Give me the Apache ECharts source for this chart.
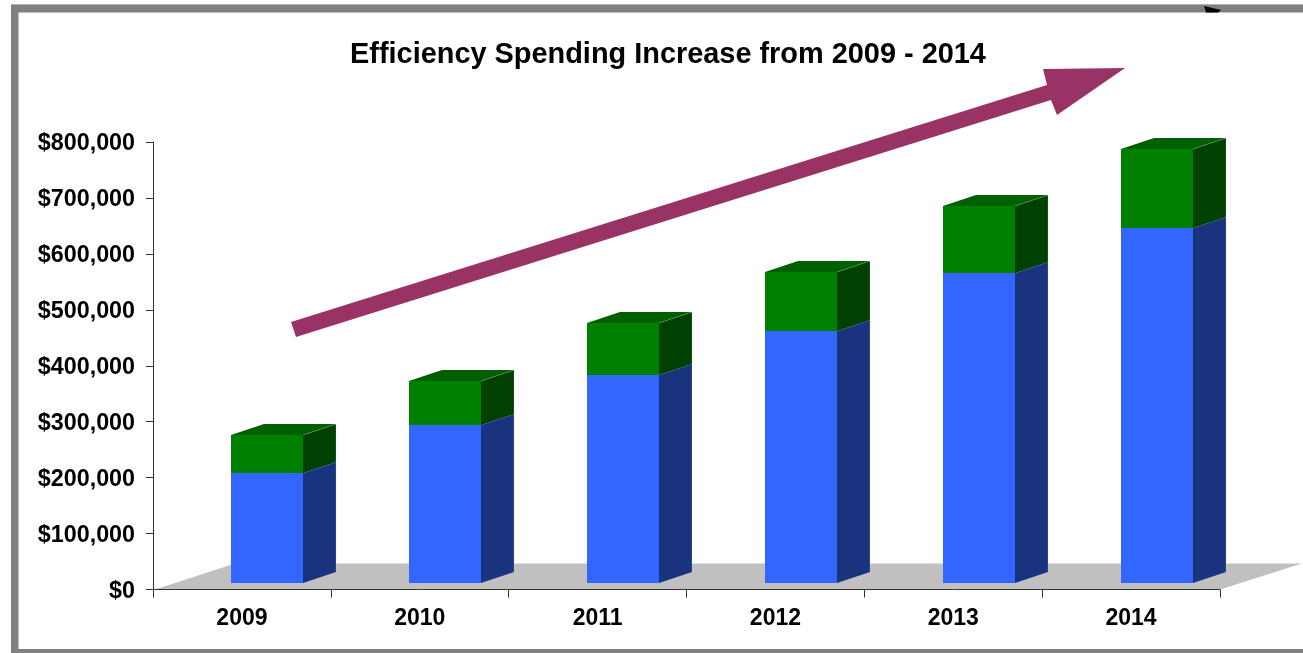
<!DOCTYPE html>
<html>
<head>
<meta charset="utf-8">
<style>
  html, body { margin: 0; padding: 0; background: #fff; }
  #chart { width: 1303px; height: 653px; }
</style>
<script src="https://cdn.jsdelivr.net/npm/echarts@6/dist/echarts.min.js"></script>
</head>
<body>
<div id="chart"></div>
<script>
// Annual spending, two stacked segments per year
const years = ['2009', '2010', '2011', '2012', '2013', '2014'];
const lowerValues = [197000, 282000, 372000, 450000, 554000, 635000];
const upperValues = [68000, 79000, 93000, 106000, 120000, 141000];
const axisTicks = [0, 100000, 200000, 300000, 400000, 500000, 600000, 700000, 800000];

const FONT = '"Liberation Sans", Arial, sans-serif';

// Pseudo-3D projection, in pixels
const DEPTH_X = 33, DEPTH_Y = 11;
const BAR_W = 72, BAR_SHIFT_X = 25.5, BAR_SHIFT_Y = 6.5;
const FLOOR_X = 82, FLOOR_Y = 26;

const chart = echarts.init(document.getElementById('chart'), null, { renderer: 'canvas' });

function blockSeries(name, starts, values, front, side, top) {
  return {
    type: 'custom',
    name,
    z: 3,
    silent: true,
    encode: { x: 0, y: [1, 2] },
    data: values.map((v, i) => [i, starts[i], starts[i] + v]),
    renderItem(params, api) {
      const low = api.coord([api.value(0), api.value(1)]);
      const high = api.coord([api.value(0), api.value(2)]);
      const x0 = Math.round(low[0] + BAR_SHIFT_X - BAR_W / 2);
      const x1 = x0 + BAR_W;
      const yb = Math.round(low[1] - BAR_SHIFT_Y);
      const yt = Math.round(high[1] - BAR_SHIFT_Y);
      const face = (pts, fill) => ({
        type: 'polygon',
        shape: { points: pts },
        style: { fill }
      });
      return {
        type: 'group',
        children: [
          face([[x1, yb], [x1 + DEPTH_X, yb - DEPTH_Y], [x1 + DEPTH_X, yt - DEPTH_Y], [x1, yt]], side),
          face([[x0, yt], [x1, yt], [x1 + DEPTH_X, yt - DEPTH_Y], [x0 + DEPTH_X, yt - DEPTH_Y]], top),
          face([[x0, yb], [x1, yb], [x1, yt], [x0, yt]], front),
          {
            type: 'polyline',
            shape: { points: [[x1, yt], [x1 + DEPTH_X, yt - DEPTH_Y], [x1 + DEPTH_X, yb - DEPTH_Y]] },
            style: { stroke: 'rgba(190,215,190,0.4)', lineWidth: 0.6, fill: null }
          }
        ]
      };
    }
  };
}

const floorSeries = {
  type: 'custom',
  name: 'floor',
  z: 1,
  silent: true,
  data: [[0]],
  encode: { x: 0 },
  renderItem(params) {
    const c = params.coordSys;
    const y = c.y + c.height;
    return {
      type: 'polygon',
      shape: {
        points: [
          [c.x + 2, y], [c.x + c.width, y],
          [c.x + c.width + FLOOR_X, y - FLOOR_Y], [c.x + FLOOR_X, y - FLOOR_Y]
        ]
      },
      style: { fill: '#c0c0c0' }
    };
  }
};

chart.setOption({
  animation: false,
  backgroundColor: '#ffffff',
  title: {
    text: 'Efficiency Spending Increase from 2009 - 2014',
    left: 663,
    top: 36,
    textAlign: 'center',
    textStyle: { fontFamily: FONT, fontWeight: 'bold', fontSize: 28.9, color: '#000' }
  },
  grid: { left: 153, right: 83, top: 142, bottom: 63.5, containLabel: false },
  xAxis: {
    type: 'category',
    data: years,
    boundaryGap: true,
    z: 5,
    axisLine: { lineStyle: { color: '#333', width: 1 } },
    axisTick: { show: true, alignWithLabel: false, length: 8, lineStyle: { color: '#333', width: 1 } },
    axisLabel: { margin: 18, fontFamily: FONT, fontWeight: 'bold', fontSize: 23, color: '#000' },
    splitLine: { show: false }
  },
  yAxis: {
    type: 'value',
    min: axisTicks[0],
    max: axisTicks[axisTicks.length - 1],
    interval: axisTicks[1] - axisTicks[0],
    z: 5,
    axisLine: { show: true, lineStyle: { color: '#333', width: 1 } },
    axisTick: { show: true, length: 7, lineStyle: { color: '#333', width: 1 } },
    axisLabel: {
      margin: 18,
      fontFamily: FONT,
      fontWeight: 'bold',
      fontSize: 23.3,
      color: '#000',
      verticalAlign: 'top',
      lineHeight: 4,
      formatter: v => '$' + v.toLocaleString('en-US')
    },
    splitLine: { show: false }
  },
  series: [
    floorSeries,
    blockSeries('lower', years.map(() => 0), lowerValues, '#3366ff', '#19337f', '#264cbf'),
    blockSeries('upper', lowerValues, upperValues, '#008000', '#004000', '#006000')
  ],
  graphic: [
    // Frame around the slide panel
    { type: 'rect', z: 20, shape: { x: 11, y: 4, width: 1292, height: 8.5 }, style: { fill: '#808080' } },
    { type: 'rect', z: 20, shape: { x: 11, y: 4, width: 7.5, height: 649 }, style: { fill: '#808080' } },
    { type: 'rect', z: 20, shape: { x: 11, y: 649, width: 1292, height: 4 }, style: { fill: '#808080' } },
    { type: 'rect', z: 20, shape: { x: 11, y: 4, width: 1292, height: 1 }, style: { fill: '#b0b0b0' } },
    // Clipped black arrow tip sitting on the frame
    { type: 'polygon', z: 21, shape: { points: [[1204, 6], [1221, 10], [1218, 12.5], [1206, 12.5]] }, style: { fill: '#000' } },
    // Growth arrow
    {
      type: 'polygon',
      z: 10,
      shape: {
        points: [
          [291, 322], [1047, 85], [1043, 69], [1125, 68],
          [1057, 115], [1051, 100], [296, 337]
        ]
      },
      style: { fill: '#993366' }
    }
  ]
});
</script>
</body>
</html>
